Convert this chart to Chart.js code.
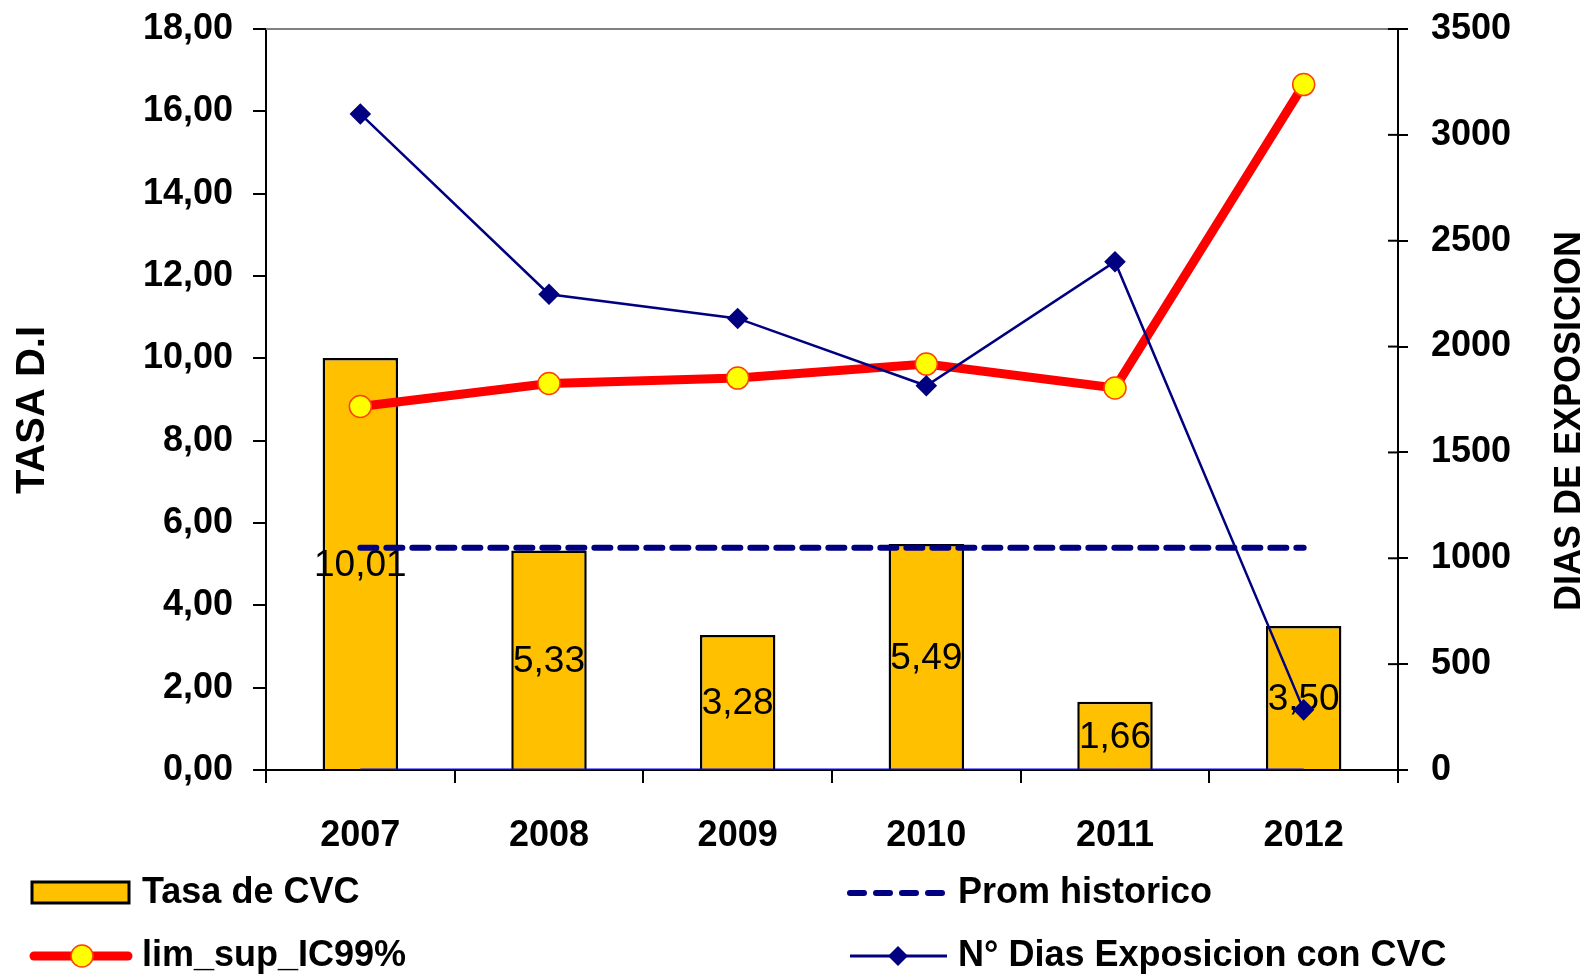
<!DOCTYPE html>
<html>
<head>
<meta charset="utf-8">
<title>Tasa de CVC</title>
<script src="https://cdn.jsdelivr.net/npm/chart.js@4.4.1/dist/chart.umd.min.js"></script>
<style>
    html, body { margin: 0; padding: 0; background: #fff; }
    #chart { display: block; }
</style>
</head>
<body>
<canvas id="chart" width="1587" height="977"></canvas>
<script>
// Data
const years = ['2007', '2008', '2009', '2010', '2011', '2012'];
const tasaCVC = [10.01, 5.33, 3.28, 5.49, 1.66, 3.50];
const promHistorico = [5.4, 5.4, 5.4, 5.4, 5.4, 5.4];
const limSupIC99 = [8.83, 9.39, 9.52, 9.86, 9.28, 16.65];
const diasExposicion = [3099, 2247, 2133, 1815, 2401, 284];
const baseLine = [0, 0, 0, 0, 0, 0];

const FONT = "'Liberation Sans', Arial, sans-serif";
const fmt = v => v.toFixed(2).replace('.', ',');

// Value labels inside the bars, drawn right after the bars so lines go on top
const barLabels = {
    id: 'barLabels',
    afterDatasetDraw(chart, args) {
        if (args.index !== 0) return;
        const ctx = chart.ctx;
        ctx.save();
        ctx.font = '37px ' + FONT;
        ctx.fillStyle = '#000';
        ctx.textAlign = 'center';
        ctx.textBaseline = 'middle';
        args.meta.data.forEach((bar, i) => {
            const mid = (bar.y + bar.base) / 2;
            ctx.fillText(fmt(tasaCVC[i]), bar.x, mid + 2);
        });
        ctx.restore();
    }
};

// Top frame line and the inner half of the right axis ticks
const frame = {
    id: 'frame',
    beforeDatasetsDraw(chart) {
        const { ctx, chartArea } = chart;
        ctx.save();
        ctx.strokeStyle = '#808080';
        ctx.lineWidth = 2;
        ctx.beginPath();
        ctx.moveTo(chartArea.left, chartArea.top);
        ctx.lineTo(chartArea.right, chartArea.top);
        ctx.stroke();
        ctx.strokeStyle = '#000';
        const y1 = chart.scales.y1;
        y1.ticks.forEach((t, i) => {
            const py = y1.getPixelForTick(i);
            ctx.beginPath();
            ctx.moveTo(chartArea.right - 10, py);
            ctx.lineTo(chartArea.right, py);
            ctx.stroke();
        });
        ctx.restore();
    }
};

// Axis titles and the two-column legend at the bottom
const extras = {
    id: 'extras',
    afterDraw(chart) {
        const ctx = chart.ctx;
        const ds = chart.data.datasets;
        ctx.save();
        ctx.fillStyle = '#000';
        ctx.textAlign = 'center';
        ctx.textBaseline = 'middle';

        // axis titles, both reading bottom to top
        ctx.save();
        ctx.translate(33, 410);
        ctx.rotate(-Math.PI / 2);
        ctx.font = 'bold 40px ' + FONT;
        ctx.fillText('TASA D.I', 0, 0);
        ctx.restore();

        ctx.save();
        ctx.translate(1570, 421);
        ctx.rotate(-Math.PI / 2);
        ctx.font = 'bold 36px ' + FONT;
        ctx.fillText('DIAS DE EXPOSICION', 0, 0);
        ctx.restore();

        ctx.font = 'bold 36px ' + FONT;
        ctx.textAlign = 'left';

        // Tasa de CVC
        ctx.fillStyle = ds[0].backgroundColor;
        ctx.strokeStyle = '#000';
        ctx.lineWidth = 3;
        ctx.fillRect(32, 882, 97, 21);
        ctx.strokeRect(32, 882, 97, 21);
        ctx.fillStyle = '#000';
        ctx.fillText(ds[0].label, 142, 893);

        // lim_sup_IC99%
        ctx.strokeStyle = ds[2].borderColor;
        ctx.lineWidth = 9;
        ctx.lineCap = 'round';
        ctx.beginPath();
        ctx.moveTo(34, 956);
        ctx.lineTo(128, 956);
        ctx.stroke();
        ctx.beginPath();
        ctx.arc(82, 956, 11, 0, Math.PI * 2);
        ctx.fillStyle = ds[2].pointBackgroundColor;
        ctx.fill();
        ctx.lineWidth = 1.5;
        ctx.strokeStyle = ds[2].pointBorderColor;
        ctx.stroke();
        ctx.fillStyle = '#000';
        ctx.fillText(ds[2].label, 142, 956);

        // Prom historico
        ctx.strokeStyle = ds[1].borderColor;
        ctx.lineWidth = 6;
        ctx.setLineDash([14, 12]);
        ctx.beginPath();
        ctx.moveTo(850, 893);
        ctx.lineTo(948, 893);
        ctx.stroke();
        ctx.setLineDash([]);
        ctx.fillText(ds[1].label, 958, 893);

        // N° Dias Exposicion con CVC
        ctx.strokeStyle = ds[3].borderColor;
        ctx.lineWidth = 3;
        ctx.lineCap = 'butt';
        ctx.beginPath();
        ctx.moveTo(850, 956);
        ctx.lineTo(947, 956);
        ctx.stroke();
        ctx.fillStyle = ds[3].borderColor;
        ctx.beginPath();
        ctx.moveTo(898, 946);
        ctx.lineTo(908, 956);
        ctx.lineTo(898, 966);
        ctx.lineTo(888, 956);
        ctx.closePath();
        ctx.fill();
        ctx.fillStyle = '#000';
        ctx.fillText(ds[3].label, 958, 956);

        ctx.restore();
    }
};

new Chart('chart', {
    type: 'bar',
    data: {
        labels: years,
        datasets: [
            {
                type: 'bar',
                label: 'Tasa de CVC',
                data: tasaCVC,
                backgroundColor: '#FFC000',
                borderColor: '#000',
                borderWidth: 2.5,
                barPercentage: 0.4,
                categoryPercentage: 1,
                yAxisID: 'y',
                order: 5
            },
            {
                type: 'line',
                label: 'Prom historico',
                data: promHistorico,
                borderColor: '#000080',
                borderWidth: 6,
                borderDash: [16, 10],
                borderCapStyle: 'round',
                pointRadius: 0,
                yAxisID: 'y',
                order: 3
            },
            {
                type: 'line',
                label: 'lim_sup_IC99%',
                data: limSupIC99,
                borderColor: '#FF0000',
                borderWidth: 9,
                pointRadius: 11,
                pointBackgroundColor: '#FFFF00',
                pointBorderColor: '#FF4000',
                pointBorderWidth: 1.5,
                yAxisID: 'y',
                order: 2
            },
            {
                type: 'line',
                label: 'N° Dias Exposicion con CVC',
                data: diasExposicion,
                borderColor: '#000080',
                borderWidth: 2.5,
                pointStyle: 'rectRot',
                pointRadius: 9,
                pointBackgroundColor: '#000080',
                pointBorderColor: '#000080',
                yAxisID: 'y1',
                order: 1
            },
            {
                type: 'line',
                label: 'base',
                data: baseLine,
                borderColor: '#0000FF',
                borderWidth: 3,
                pointRadius: 0,
                yAxisID: 'y',
                order: 4
            }
        ]
    },
    options: {
        responsive: false,
        animation: false,
        devicePixelRatio: 1,
        layout: { padding: { top: 29, left: 0, right: 0, bottom: 0 } },
        plugins: {
            legend: { display: false },
            tooltip: { enabled: false }
        },
        scales: {
            x: {
                afterFit: s => { s.height = 207; },
                grid: { drawOnChartArea: false, color: '#000', lineWidth: 2, tickLength: 13, offset: true },
                border: { color: '#000', width: 2 },
                ticks: { color: '#000', font: { family: FONT, size: 36, weight: 'bold' }, padding: 31 }
            },
            y: {
                position: 'left',
                min: 0,
                max: 18,
                afterFit: s => { s.width = 266; s.paddingTop = 0; s.paddingBottom = 0; },
                grid: { drawOnChartArea: false, color: '#000', lineWidth: 2, tickLength: 13 },
                border: { color: '#000', width: 2 },
                ticks: {
                    stepSize: 2,
                    color: '#000',
                    padding: 20,
                    font: { family: FONT, size: 36, weight: 'bold' },
                    callback: v => fmt(v)
                }
            },
            y1: {
                position: 'right',
                min: 0,
                max: 3500,
                afterFit: s => { s.width = 189; s.paddingTop = 0; s.paddingBottom = 0; },
                grid: { drawOnChartArea: false, color: '#000', lineWidth: 2, tickLength: 10 },
                border: { color: '#000', width: 2 },
                ticks: {
                    stepSize: 500,
                    color: '#000',
                    padding: 23,
                    font: { family: FONT, size: 36, weight: 'bold' },
                    callback: v => String(v)
                }
            }
        }
    },
    plugins: [barLabels, frame, extras]
});
</script>
</body>
</html>
